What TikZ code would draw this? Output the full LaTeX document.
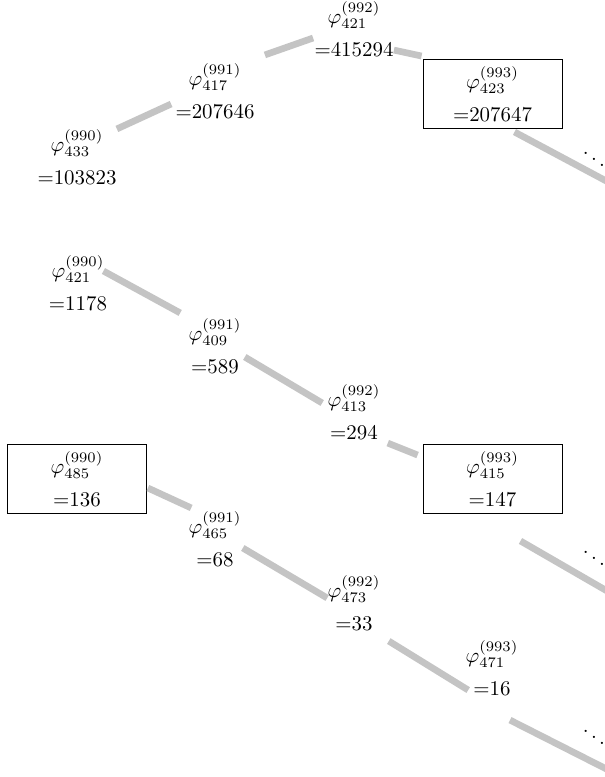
\documentclass[tikz,border=0pt]{standalone}
\usepackage{amsmath}
\usepackage{tikz}

\begin{document}
\begin{tikzpicture}[x=0.4785pt, y=-0.4785pt,
  entry/.style = {align=center, inner sep=0pt},
  framed/.style = {entry, draw, inner sep=3.3pt, minimum width=66.5pt},
  link/.style = {line width=3.2pt, black!23}]
  \useasboundingbox (0,0) rectangle (605,777);
  \clip (0,0) rectangle (605,777);

  % first chain
  \node[entry]  (a990) at (77,157)    {$\varphi^{(990)}_{433}$\\[3.8pt]=103823};
  \node[entry]  (a991) at (215,91)    {$\varphi^{(991)}_{417}$\\[3.8pt]=207646};
  \node[entry]  (a992) at (354,29)    {$\varphi^{(992)}_{421}$\\[3.8pt]=415294};
  \node[framed] (a993) at (492.5,94)  {$\varphi^{(993)}_{423}$\\[3.8pt]=207647};
  \node         (a994) at (594,153)   {$\ddots$};
  \coordinate   (a995) at (640,199);

  % second chain
  \node[entry]  (b990) at (78,283)    {$\varphi^{(990)}_{421}$\\[3.8pt]=1178};
  \node[entry]  (b991) at (215,346)   {$\varphi^{(991)}_{409}$\\[3.8pt]=589};
  \node[entry]  (b992) at (354,412)   {$\varphi^{(992)}_{413}$\\[3.8pt]=294};
  \node[framed] (b993) at (492.5,479) {$\varphi^{(993)}_{415}$\\[3.8pt]=147};
  \node         (b994) at (594,552)   {$\ddots$};
  \coordinate   (b995) at (640,610);

  % third chain
  \node[framed] (c990) at (77,479)    {$\varphi^{(990)}_{485}$\\[3.8pt]=136};
  \node[entry]  (c991) at (215,539)   {$\varphi^{(991)}_{465}$\\[3.8pt]=68};
  \node[entry]  (c992) at (354,603)   {$\varphi^{(992)}_{473}$\\[3.8pt]=33};
  \node[entry]  (c993) at (492,668)   {$\varphi^{(993)}_{471}$\\[3.8pt]=16};
  \node         (c994) at (594,731)   {$\ddots$};
  \coordinate   (c995) at (640,786);

  \draw[link] (a990.north east) -- ([shift={(-4,13)}]a991.west);
  \draw[link] ([shift={(10,-8)}]a991.north east) -- ([shift={(-1,9)}]a992.west);
  \draw[link] ([shift={(0,-7)}]a992.south east) -- ([shift={(-1,-3)}]a993.north west);
  \draw[link] ([shift={(22,3)}]a993.south) -- (a995);

  \draw[link] ([shift={(-4,-12)}]b990.east) -- ([shift={(-8,-5)}]b991.north west);
  \draw[link] ([shift={(3,11)}]b991.east) -- ([shift={(-5,-9)}]b992.west);
  \draw[link] ([shift={(7,3)}]b992.south east) -- ([shift={(-5,11)}]b993.north west);
  \draw[link] ([shift={(28,27)}]b993.south) -- (b995);

  \draw[link] ([shift={(1,9)}]c990.east) -- ([shift={(3,-3)}]c991.north west);
  \draw[link] ([shift={(1,9)}]c991.east) -- ([shift={(0,-5)}]c992.west);
  \draw[link] ([shift={(8,10)}]c992.south east) -- ([shift={(3,-6)}]c993.south west);
  \draw[link] ([shift={(18,24)}]c993.south) -- (c995);

\end{tikzpicture}
\end{document}
